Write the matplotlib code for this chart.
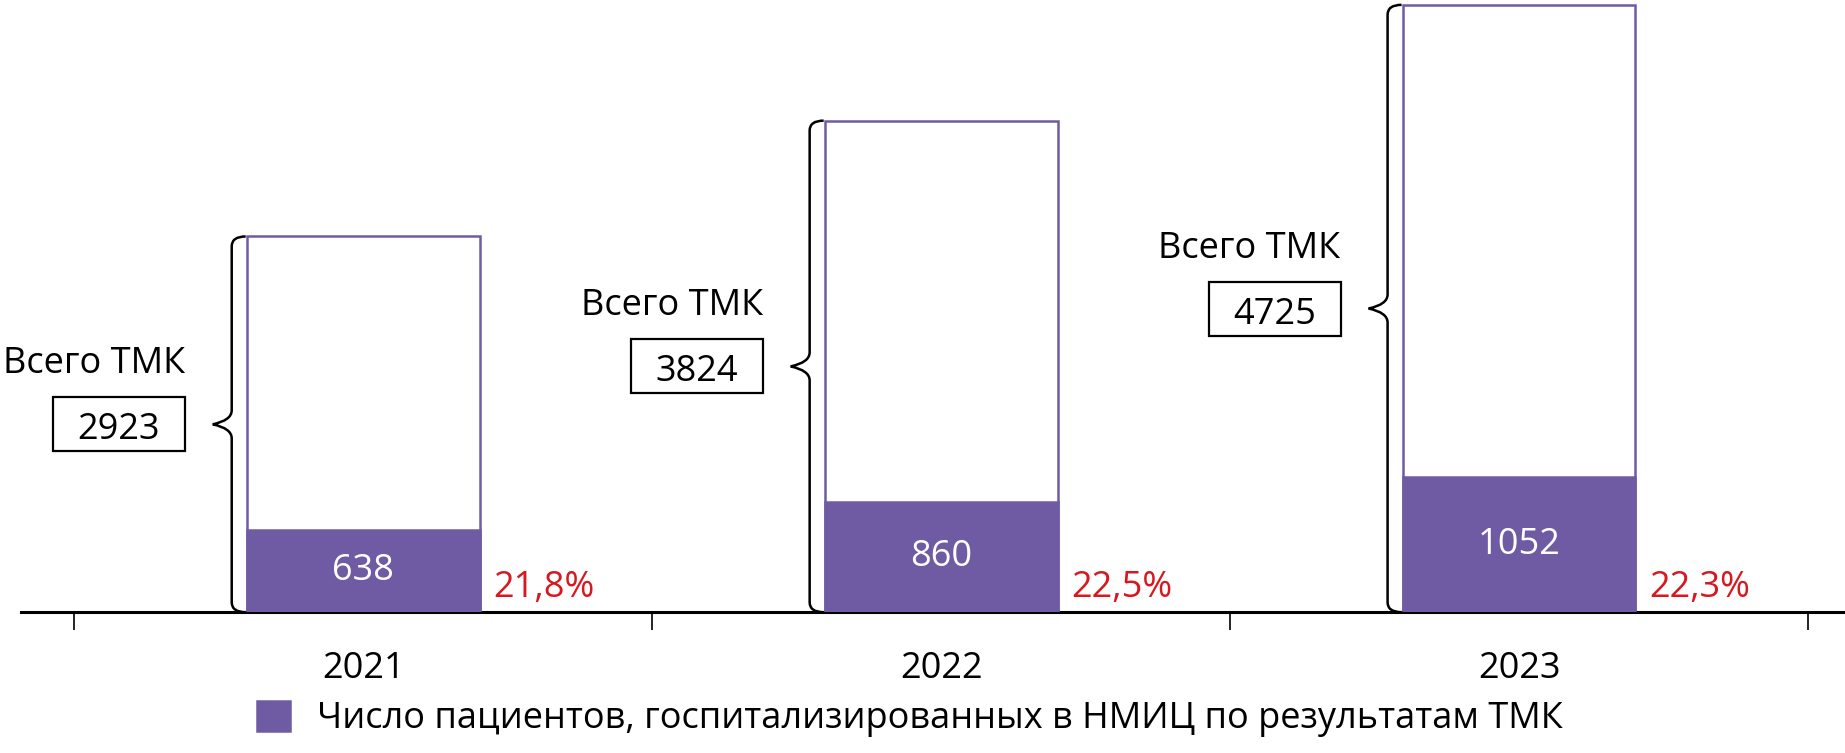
import numpy as np
import matplotlib.pyplot as plt
from matplotlib.patches import Rectangle, PathPatch
from matplotlib.path import Path
from matplotlib.transforms import Affine2D, ScaledTranslation, IdentityTransform

# data
years = ['2021', '2022', '2023']
total_tmk = [2923, 3824, 4725]
hospitalized = [638, 860, 1052]
share_labels = ['21,8%', '22,5%', '22,3%']
total_label = 'Всего ТМК'
legend_label = 'Число пациентов, госпитализированных в НМИЦ по результатам ТМК'

purple = '#6f5ba3'
red = '#d7191f'
fs = 26

plt.rcParams['font.family'] = ['Open Sans', 'DejaVu Sans']

fig = plt.figure(figsize=(18.45, 7.53), dpi=100)
ax = fig.add_axes([0.0114, 0.187, 0.9886, 0.810])

x = np.arange(len(years))
width = 0.403

ax.bar(x, total_tmk, width, color='white', edgecolor=purple, linewidth=1.8, zorder=2)
hosp_bars = ax.bar(x, hospitalized, width, color=purple, edgecolor=purple, linewidth=1.8, zorder=3)

ax.set_xlim(-0.592, 2.564)
ax.set_ylim(0, 4745)

# axis: only bottom line, ticks between the years
for s in ['left', 'right', 'top']:
    ax.spines[s].set_visible(False)
ax.spines['bottom'].set_linewidth(2.2)
ax.set_yticks([])
ax.set_xticks(np.arange(-0.5, len(years), 1))
ax.set_xticklabels([])
ax.tick_params(axis='x', which='major', length=13, width=1.2, direction='out')

for i in range(len(years)):
    xl = x[i] - width / 2
    xr = x[i] + width / 2

    # year label
    ax.annotate(years[i], xy=(x[i], 0), xytext=(0, -66), textcoords='offset pixels',
                ha='center', va='baseline', fontsize=fs, annotation_clip=False)

    # value inside the purple bar
    ax.text(x[i], hospitalized[i] / 2, str(hospitalized[i]), ha='center', va='center',
            color='white', fontsize=fs, zorder=4)

    # share in red
    ax.annotate(share_labels[i], xy=(xr, 0), xytext=(14, 15), textcoords='offset pixels',
                ha='left', va='baseline', color=red, fontsize=fs)

    # total: text + boxed number to the left of the brace
    ax.annotate(total_label, xy=(xl, total_tmk[i] / 2), xytext=(-62, 51),
                textcoords='offset pixels', ha='right', va='baseline', fontsize=fs)
    ax.annotate(str(total_tmk[i]), xy=(xl, total_tmk[i] / 2), xytext=(-128, -15),
                textcoords='offset pixels', ha='center', va='baseline', fontsize=fs)
    box_tr = Affine2D() + ScaledTranslation(xl, total_tmk[i] / 2, ax.transData)
    ax.add_patch(Rectangle((-194, -27), 132, 54, transform=box_tr, fill=False,
                           edgecolor='black', linewidth=1.6, clip_on=False))

    # curly brace
    px, py0 = ax.transData.transform((xl, 0))
    _, py1 = ax.transData.transform((xl, total_tmk[i]))
    mid = (py0 + py1) / 2
    xv = px - 15
    xt = px - 34
    r = 10
    verts = [(px - 1, py0), (xv, py0), (xv, py0 + r),
             (xv, mid - 14), (xv, mid - 4), (xt, mid),
             (xv, mid + 4), (xv, mid + 14),
             (xv, py1 - r), (xv, py1), (px - 1, py1)]
    codes = [Path.MOVETO, Path.CURVE3, Path.CURVE3,
             Path.LINETO, Path.CURVE3, Path.CURVE3,
             Path.CURVE3, Path.CURVE3,
             Path.LINETO, Path.CURVE3, Path.CURVE3]
    ax.add_patch(PathPatch(Path(verts, codes), transform=IdentityTransform(),
                           fill=False, edgecolor='black', linewidth=1.8, clip_on=False))

fig.legend([hosp_bars], [legend_label], loc='center left', bbox_to_anchor=(0.1393, 0.0452),
           frameon=False, fontsize=fs, handlelength=0.9, handleheight=0.9,
           handletextpad=0.75, borderpad=0, borderaxespad=0)

plt.savefig('out.png', dpi=100)
